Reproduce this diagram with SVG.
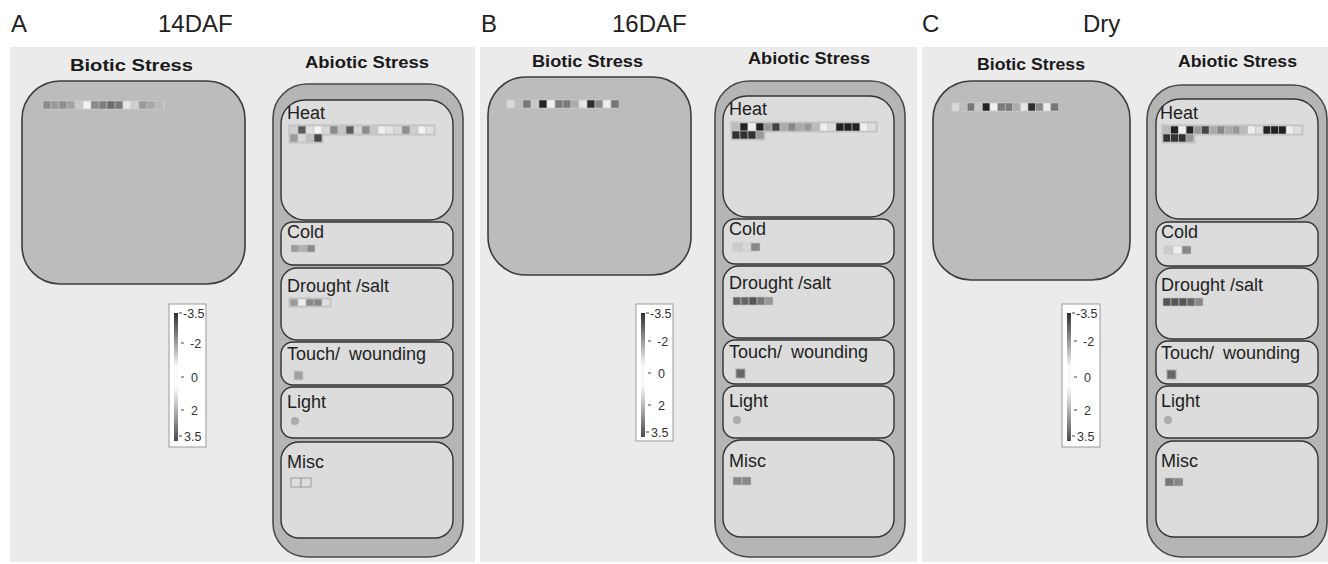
<svg xmlns="http://www.w3.org/2000/svg" width="1328" height="564" viewBox="0 0 1328 564">
<defs>
<linearGradient id="lg" x1="0" y1="0" x2="0" y2="1">
<stop offset="0" stop-color="#2e2e2e"/><stop offset="0.3" stop-color="#bdbdbd"/><stop offset="0.42" stop-color="#fafafa"/><stop offset="0.58" stop-color="#fafafa"/><stop offset="0.72" stop-color="#c4c4c4"/><stop offset="1" stop-color="#4a4a4a"/>
</linearGradient>
<style>
.ttl{font-family:"Liberation Sans",Arial,sans-serif;font-size:24px;fill:#222}
.hd{font-family:"Liberation Sans",Arial,sans-serif;font-size:16.5px;font-weight:bold;fill:#1a1a1a}
.lb{font-family:"Liberation Sans",Arial,sans-serif;font-size:18px;fill:#1e1e1e}
.tw{word-spacing:4px}
.lg{font-family:"Liberation Sans",Arial,sans-serif;font-size:12.5px;fill:#333}
.pb{fill:#ebebeb}
.bio{fill:#bcbcbc;stroke:#3c3c3c;stroke-width:1.6}
.out{fill:#b5b5b5;stroke:#4a4a4a;stroke-width:1.6}
.inn{fill:#dcdcdc;stroke:#333;stroke-width:1.4}
.strip{fill:#cdcdcd;stroke:#b8b8b8;stroke-width:0.8}
.c{stroke:#c4c4c4;stroke-width:0.6}
.lgb{fill:#fff;stroke:#9a9a9a;stroke-width:1}
.tk{stroke:#444;stroke-width:1}
</style>
</defs>
<rect width="1328" height="564" fill="#fff"/>

<!-- Panel A -->
<g id="panelA">
<rect class="pb" x="10" y="47" width="465" height="515"/>
<text class="ttl" x="11" y="32">A</text>
<text class="ttl" x="158" y="32">14DAF</text>
<g id="A-biotic">
<text class="hd" x="70" y="71" textLength="123" lengthAdjust="spacingAndGlyphs">Biotic Stress</text>
<rect class="bio" x="22" y="81" width="223" height="203" rx="38"/>
<rect class="strip" x="42" y="100" width="123" height="10"/>
<g class="c">
<rect x="43" y="101" width="8" height="8" fill="#8c8c8c"/><rect x="51" y="101" width="8" height="8" fill="#9a9a9a"/><rect x="59" y="101" width="8" height="8" fill="#8e8e8e"/><rect x="67" y="101" width="8" height="8" fill="#a2a2a2"/><rect x="75" y="101" width="8" height="8" fill="#c8c8c8"/><rect x="83" y="101" width="8" height="8" fill="#f2f2f2"/><rect x="91" y="101" width="8" height="8" fill="#8a8a8a"/><rect x="99" y="101" width="8" height="8" fill="#7e7e7e"/><rect x="107" y="101" width="8" height="8" fill="#6c6c6c"/><rect x="115" y="101" width="8" height="8" fill="#7a7a7a"/><rect x="123" y="101" width="8" height="8" fill="#e6e6e6"/><rect x="131" y="101" width="8" height="8" fill="#cfcfcf"/><rect x="139" y="101" width="8" height="8" fill="#9a9a9a"/><rect x="147" y="101" width="8" height="8" fill="#a8a8a8"/><rect x="155" y="101" width="8" height="8" fill="#b8b8b8"/>
</g>
</g>
<g id="A-legend">
<rect class="lgb" x="169" y="304" width="37" height="143"/>
<rect x="174" y="313" width="4" height="128" fill="url(#lg)"/>
<line class="tk" x1="179" y1="313" x2="182" y2="313"/><line class="tk" x1="181" y1="343" x2="184" y2="343"/><line class="tk" x1="181" y1="377" x2="184" y2="377"/><line class="tk" x1="181" y1="410" x2="184" y2="410"/><line class="tk" x1="179" y1="436" x2="182" y2="436"/>
<text class="lg" x="183" y="318">-3.5</text><text class="lg" x="190" y="348">-2</text><text class="lg" x="191" y="382">0</text><text class="lg" x="191" y="415">2</text><text class="lg" x="184" y="441">3.5</text>
</g>
<g id="A-abiotic">
<text class="hd" x="305" y="68" textLength="124" lengthAdjust="spacingAndGlyphs">Abiotic Stress</text>
<rect class="out" x="273" y="84" width="190" height="473" rx="34"/>
<g id="A-heat">
<rect class="inn" x="281" y="100" width="172" height="120" rx="24"/>
<text class="lb" x="287" y="119">Heat</text>
<rect class="strip" x="289" y="125" width="146" height="10"/>
<rect class="strip" x="289" y="133" width="34" height="10"/>
<g class="c">
<rect x="290" y="126" width="8" height="8" fill="#cfcfcf"/><rect x="298" y="126" width="8" height="8" fill="#5a5a5a"/><rect x="306" y="126" width="8" height="8" fill="#dedede"/><rect x="314" y="126" width="8" height="8" fill="#f4f4f4"/><rect x="322" y="126" width="8" height="8" fill="#d8d8d8"/><rect x="330" y="126" width="8" height="8" fill="#8a8a8a"/><rect x="338" y="126" width="8" height="8" fill="#c4c4c4"/><rect x="346" y="126" width="8" height="8" fill="#5c5c5c"/><rect x="354" y="126" width="8" height="8" fill="#d6d6d6"/><rect x="362" y="126" width="8" height="8" fill="#8c8c8c"/><rect x="370" y="126" width="8" height="8" fill="#c8c8c8"/><rect x="378" y="126" width="8" height="8" fill="#f0f0f0"/><rect x="386" y="126" width="8" height="8" fill="#e4e4e4"/><rect x="394" y="126" width="8" height="8" fill="#d8d8d8"/><rect x="402" y="126" width="8" height="8" fill="#8e8e8e"/><rect x="410" y="126" width="8" height="8" fill="#cfcfcf"/><rect x="418" y="126" width="8" height="8" fill="#f2f2f2"/><rect x="426" y="126" width="8" height="8" fill="#e0e0e0"/>
<rect x="290" y="134" width="8" height="8" fill="#9a9a9a"/><rect x="298" y="134" width="8" height="8" fill="#d8d8d8"/><rect x="306" y="134" width="8" height="8" fill="#c0c0c0"/><rect x="314" y="134" width="8" height="8" fill="#4a4a4a"/>
</g>
</g>
<g id="A-cold">
<rect class="inn" x="281" y="222" width="172" height="43" rx="12"/>
<text class="lb" x="287" y="238">Cold</text>
<g class="c"><rect x="291" y="245" width="8" height="7" fill="#9a9a9a"/><rect x="299" y="245" width="8" height="7" fill="#b0b0b0"/><rect x="307" y="245" width="8" height="7" fill="#8a8a8a"/></g>
</g>
<g id="A-drought">
<rect class="inn" x="281" y="268" width="172" height="72" rx="16"/>
<text class="lb" x="287" y="292">Drought /salt</text>
<rect class="strip" x="289" y="298" width="42" height="9"/>
<g class="c"><rect x="290" y="299" width="8" height="7" fill="#9c9c9c"/><rect x="298" y="299" width="8" height="7" fill="#ececec"/><rect x="306" y="299" width="8" height="7" fill="#8a8a8a"/><rect x="314" y="299" width="8" height="7" fill="#868686"/><rect x="322" y="299" width="8" height="7" fill="#dedede"/></g>
</g>
<g id="A-touch">
<rect class="inn" x="281" y="342" width="172" height="43" rx="12"/>
<text class="lb tw" x="287" y="360">Touch/ wounding</text>
<rect x="294" y="371" width="9" height="9" fill="#a0a0a0" stroke="#c8c8c8" stroke-width="1"/>
</g>
<g id="A-light">
<rect class="inn" x="281" y="387" width="172" height="51" rx="12"/>
<text class="lb" x="287" y="408">Light</text>
<circle cx="295" cy="421" r="4" fill="#acacac"/>
</g>
<g id="A-misc">
<rect class="inn" x="281" y="442" width="172" height="96" rx="18"/>
<text class="lb" x="287" y="468">Misc</text>
<g><rect x="291" y="478" width="10" height="9" fill="#dedede" stroke="#9a9a9a" stroke-width="1"/><rect x="301" y="478" width="10" height="9" fill="#dedede" stroke="#9a9a9a" stroke-width="1"/></g>
</g>
</g>
</g>

<!-- Panel B -->
<g id="panelB">
<rect class="pb" x="480" y="47" width="437" height="515"/>
<text class="ttl" x="481" y="32">B</text>
<text class="ttl" x="612" y="32">16DAF</text>
<g id="B-biotic">
<text class="hd" x="532" y="67" textLength="111" lengthAdjust="spacingAndGlyphs">Biotic Stress</text>
<rect class="bio" x="488" y="77" width="203" height="198" rx="38"/>
<rect class="strip" x="506" y="99" width="112" height="10"/>
<g class="c">
<rect x="507" y="100" width="8" height="8" fill="#dadada"/><rect x="515" y="100" width="8" height="8" fill="#bdbdbd"/><rect x="523" y="100" width="8" height="8" fill="#777"/><rect x="531" y="100" width="8" height="8" fill="#c8c8c8"/><rect x="539" y="100" width="8" height="8" fill="#222"/><rect x="547" y="100" width="8" height="8" fill="#f0f0f0"/><rect x="555" y="100" width="8" height="8" fill="#7a7a7a"/><rect x="563" y="100" width="8" height="8" fill="#7a7a7a"/><rect x="571" y="100" width="8" height="8" fill="#adadad"/><rect x="579" y="100" width="8" height="8" fill="#e6e6e6"/><rect x="587" y="100" width="8" height="8" fill="#2e2e2e"/><rect x="595" y="100" width="8" height="8" fill="#8a8a8a"/><rect x="603" y="100" width="8" height="8" fill="#eeeeee"/><rect x="611" y="100" width="8" height="8" fill="#777"/>
</g>
</g>
<g id="B-legend">
<rect class="lgb" x="636" y="304" width="37" height="137"/>
<rect x="641" y="313" width="4" height="124" fill="url(#lg)"/>
<line class="tk" x1="646" y1="313" x2="649" y2="313"/><line class="tk" x1="648" y1="341" x2="651" y2="341"/><line class="tk" x1="648" y1="373" x2="651" y2="373"/><line class="tk" x1="648" y1="405" x2="651" y2="405"/><line class="tk" x1="646" y1="432" x2="649" y2="432"/>
<text class="lg" x="650" y="318">-3.5</text><text class="lg" x="657" y="346">-2</text><text class="lg" x="658" y="378">0</text><text class="lg" x="658" y="410">2</text><text class="lg" x="651" y="437">3.5</text>
</g>
<g id="B-abiotic">
<text class="hd" x="748" y="64" textLength="122" lengthAdjust="spacingAndGlyphs">Abiotic Stress</text>
<rect class="out" x="715" y="81" width="190" height="476" rx="34"/>
<g id="B-heat">
<rect class="inn" x="723" y="96" width="171" height="121" rx="24"/>
<text class="lb" x="729" y="115">Heat</text>
<rect class="strip" x="731" y="122" width="146" height="10"/>
<rect class="strip" x="731" y="130" width="34" height="10"/>
<g class="c">
<rect x="732" y="123" width="8" height="8" fill="#bbb"/><rect x="740" y="123" width="8" height="8" fill="#222"/><rect x="748" y="123" width="8" height="8" fill="#eee"/><rect x="756" y="123" width="8" height="8" fill="#222"/><rect x="764" y="123" width="8" height="8" fill="#999"/><rect x="772" y="123" width="8" height="8" fill="#444"/><rect x="780" y="123" width="8" height="8" fill="#aaa"/><rect x="788" y="123" width="8" height="8" fill="#888"/><rect x="796" y="123" width="8" height="8" fill="#aaa"/><rect x="804" y="123" width="8" height="8" fill="#999"/><rect x="812" y="123" width="8" height="8" fill="#bbb"/><rect x="820" y="123" width="8" height="8" fill="#eee"/><rect x="828" y="123" width="8" height="8" fill="#ddd"/><rect x="836" y="123" width="8" height="8" fill="#222"/><rect x="844" y="123" width="8" height="8" fill="#222"/><rect x="852" y="123" width="8" height="8" fill="#222"/><rect x="860" y="123" width="8" height="8" fill="#eee"/><rect x="868" y="123" width="8" height="8" fill="#ddd"/>
<rect x="732" y="131" width="8" height="8" fill="#333"/><rect x="740" y="131" width="8" height="8" fill="#333"/><rect x="748" y="131" width="8" height="8" fill="#333"/><rect x="756" y="131" width="8" height="8" fill="#999"/>
</g>
</g>
<g id="B-cold">
<rect class="inn" x="723" y="219" width="171" height="45" rx="12"/>
<text class="lb" x="729" y="235">Cold</text>
<g class="c"><rect x="733" y="243" width="9" height="8" fill="#ccc"/><rect x="742" y="243" width="9" height="8" fill="#d8d8d8"/><rect x="751" y="243" width="9" height="8" fill="#888"/></g>
</g>
<g id="B-drought">
<rect class="inn" x="723" y="266" width="171" height="72" rx="16"/>
<text class="lb" x="729" y="289">Drought /salt</text>
<g class="c"><rect x="733" y="297" width="8" height="8" fill="#666"/><rect x="741" y="297" width="8" height="8" fill="#666"/><rect x="749" y="297" width="8" height="8" fill="#555"/><rect x="757" y="297" width="8" height="8" fill="#777"/><rect x="765" y="297" width="8" height="8" fill="#999"/></g>
</g>
<g id="B-touch">
<rect class="inn" x="723" y="340" width="171" height="44" rx="12"/>
<text class="lb tw" x="729" y="358">Touch/ wounding</text>
<rect x="736" y="369" width="9" height="9" fill="#666" stroke="#aaa" stroke-width="1"/>
</g>
<g id="B-light">
<rect class="inn" x="723" y="386" width="171" height="52" rx="12"/>
<text class="lb" x="729" y="407">Light</text>
<circle cx="737" cy="420" r="4" fill="#acacac"/>
</g>
<g id="B-misc">
<rect class="inn" x="723" y="440" width="171" height="97" rx="18"/>
<text class="lb" x="729" y="467">Misc</text>
<g class="c"><rect x="733" y="477" width="9" height="8" fill="#888"/><rect x="742" y="477" width="9" height="8" fill="#888"/></g>
</g>
</g>
</g>

<!-- Panel C -->
<g id="panelC">
<rect class="pb" x="922" y="47" width="406" height="515"/>
<text class="ttl" x="922" y="32">C</text>
<text class="ttl" x="1083" y="32">Dry</text>
<g id="C-biotic">
<text class="hd" x="977" y="70" textLength="108" lengthAdjust="spacingAndGlyphs">Biotic Stress</text>
<rect class="bio" x="933" y="81" width="197" height="199" rx="38"/>
<rect class="strip" x="951" y="102" width="108" height="10"/>
<g class="c">
<rect x="952" y="103" width="7.6" height="8" fill="#dadada"/><rect x="959.6" y="103" width="7.6" height="8" fill="#bdbdbd"/><rect x="967.2" y="103" width="7.6" height="8" fill="#777"/><rect x="974.8" y="103" width="7.6" height="8" fill="#c8c8c8"/><rect x="982.4" y="103" width="7.6" height="8" fill="#222"/><rect x="990" y="103" width="7.6" height="8" fill="#f0f0f0"/><rect x="997.6" y="103" width="7.6" height="8" fill="#7a7a7a"/><rect x="1005.2" y="103" width="7.6" height="8" fill="#7a7a7a"/><rect x="1012.8" y="103" width="7.6" height="8" fill="#adadad"/><rect x="1020.4" y="103" width="7.6" height="8" fill="#e6e6e6"/><rect x="1028" y="103" width="7.6" height="8" fill="#2e2e2e"/><rect x="1035.6" y="103" width="7.6" height="8" fill="#8a8a8a"/><rect x="1043.2" y="103" width="7.6" height="8" fill="#eeeeee"/><rect x="1050.8" y="103" width="7.6" height="8" fill="#777"/>
</g>
</g>
<g id="C-legend">
<rect class="lgb" x="1062" y="304" width="38" height="143"/>
<rect x="1067" y="313" width="4" height="128" fill="url(#lg)"/>
<line class="tk" x1="1072" y1="313" x2="1075" y2="313"/><line class="tk" x1="1074" y1="341" x2="1077" y2="341"/><line class="tk" x1="1074" y1="377" x2="1077" y2="377"/><line class="tk" x1="1074" y1="410" x2="1077" y2="410"/><line class="tk" x1="1072" y1="436" x2="1075" y2="436"/>
<text class="lg" x="1076" y="318">-3.5</text><text class="lg" x="1083" y="346">-2</text><text class="lg" x="1084" y="382">0</text><text class="lg" x="1084" y="415">2</text><text class="lg" x="1077" y="441">3.5</text>
</g>
<g id="C-abiotic">
<text class="hd" x="1178" y="67" textLength="119" lengthAdjust="spacingAndGlyphs">Abiotic Stress</text>
<rect class="out" x="1147" y="85" width="180" height="472" rx="34"/>
<g id="C-heat">
<rect class="inn" x="1156" y="99" width="162" height="120" rx="24"/>
<text class="lb" x="1160" y="119">Heat</text>
<rect class="strip" x="1162" y="125" width="141" height="10"/>
<rect class="strip" x="1162" y="133" width="33" height="10"/>
<g class="c">
<rect x="1163" y="126" width="7.7" height="8" fill="#bbb"/><rect x="1170.7" y="126" width="7.7" height="8" fill="#222"/><rect x="1178.4" y="126" width="7.7" height="8" fill="#eee"/><rect x="1186.1" y="126" width="7.7" height="8" fill="#222"/><rect x="1193.8" y="126" width="7.7" height="8" fill="#999"/><rect x="1201.5" y="126" width="7.7" height="8" fill="#444"/><rect x="1209.2" y="126" width="7.7" height="8" fill="#aaa"/><rect x="1216.9" y="126" width="7.7" height="8" fill="#888"/><rect x="1224.6" y="126" width="7.7" height="8" fill="#aaa"/><rect x="1232.3" y="126" width="7.7" height="8" fill="#999"/><rect x="1240" y="126" width="7.7" height="8" fill="#bbb"/><rect x="1247.7" y="126" width="7.7" height="8" fill="#eee"/><rect x="1255.4" y="126" width="7.7" height="8" fill="#ddd"/><rect x="1263.1" y="126" width="7.7" height="8" fill="#222"/><rect x="1270.8" y="126" width="7.7" height="8" fill="#222"/><rect x="1278.5" y="126" width="7.7" height="8" fill="#222"/><rect x="1286.2" y="126" width="7.7" height="8" fill="#eee"/><rect x="1293.9" y="126" width="7.7" height="8" fill="#ddd"/>
<rect x="1163" y="134" width="7.7" height="8" fill="#333"/><rect x="1170.7" y="134" width="7.7" height="8" fill="#333"/><rect x="1178.4" y="134" width="7.7" height="8" fill="#333"/><rect x="1186.1" y="134" width="7.7" height="8" fill="#999"/>
</g>
</g>
<g id="C-cold">
<rect class="inn" x="1156" y="222" width="162" height="44" rx="12"/>
<text class="lb" x="1161" y="238">Cold</text>
<g class="c"><rect x="1164" y="246" width="9" height="8" fill="#ccc"/><rect x="1173" y="246" width="9" height="8" fill="#eee"/><rect x="1182" y="246" width="9" height="8" fill="#888"/></g>
</g>
<g id="C-drought">
<rect class="inn" x="1156" y="268" width="162" height="71" rx="16"/>
<text class="lb" x="1161" y="291">Drought /salt</text>
<g class="c"><rect x="1163" y="298" width="8" height="8" fill="#555"/><rect x="1171" y="298" width="8" height="8" fill="#555"/><rect x="1179" y="298" width="8" height="8" fill="#555"/><rect x="1187" y="298" width="8" height="8" fill="#666"/><rect x="1195" y="298" width="8" height="8" fill="#888"/></g>
</g>
<g id="C-touch">
<rect class="inn" x="1156" y="341" width="162" height="43" rx="12"/>
<text class="lb tw" x="1161" y="359">Touch/ wounding</text>
<rect x="1167" y="370" width="9" height="9" fill="#666" stroke="#aaa" stroke-width="1"/>
</g>
<g id="C-light">
<rect class="inn" x="1156" y="386" width="162" height="52" rx="12"/>
<text class="lb" x="1161" y="407">Light</text>
<circle cx="1168" cy="420" r="4" fill="#acacac"/>
</g>
<g id="C-misc">
<rect class="inn" x="1156" y="441" width="162" height="96" rx="18"/>
<text class="lb" x="1161" y="467">Misc</text>
<g class="c"><rect x="1165" y="478" width="9" height="8" fill="#777"/><rect x="1174" y="478" width="9" height="8" fill="#888"/></g>
</g>
</g>
</g>
<g id="connectors"/>
</svg>
